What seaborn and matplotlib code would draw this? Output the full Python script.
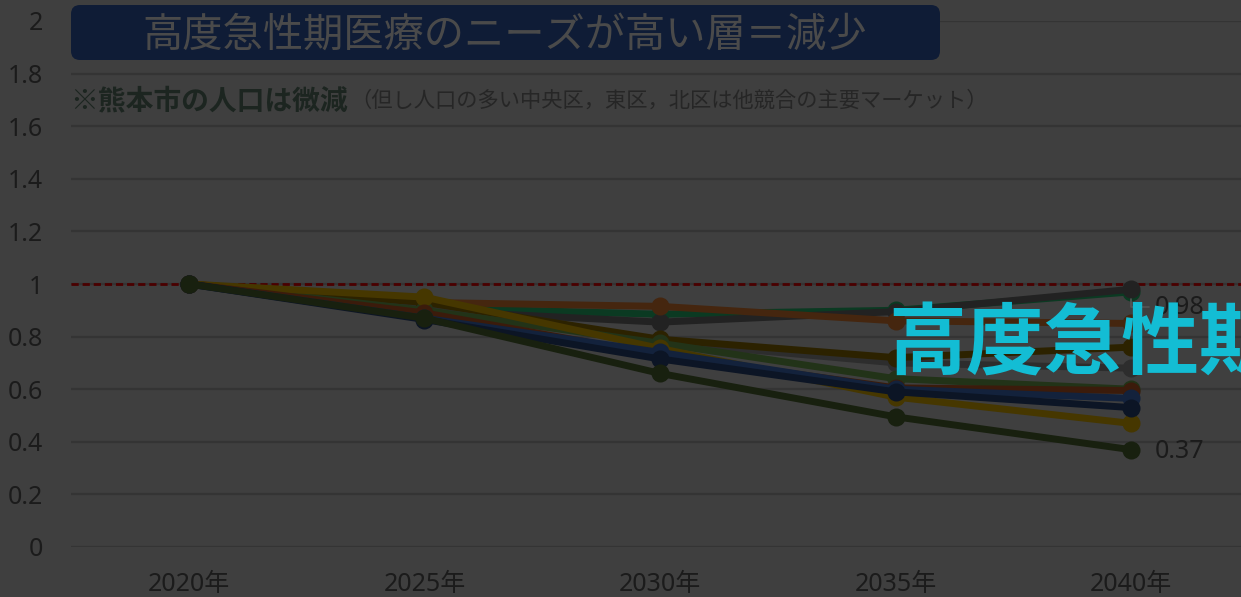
import matplotlib
matplotlib.use("Agg")
import matplotlib.pyplot as plt
from matplotlib.patches import FancyBboxPatch
from matplotlib.transforms import IdentityTransform
import seaborn as sns
import pandas as pd

# ---- data -------------------------------------------------------------
years = ["2020年", "2025年", "2030年", "2035年", "2040年"]

s_green      = [1.00, 0.91, 0.885, 0.900, 0.970]
s_darkgray   = [1.00, 0.90, 0.855, 0.895, 0.980]
s_orange     = [1.00, 0.93, 0.915, 0.860, 0.850]
s_gray       = [1.00, 0.91, 0.780, 0.700, 0.680]
s_darkyellow = [1.00, 0.93, 0.790, 0.720, 0.760]
s_olive      = [1.00, 0.90, 0.775, 0.640, 0.600]
s_gold       = [1.00, 0.95, 0.755, 0.570, 0.470]
s_brown      = [1.00, 0.89, 0.730, 0.605, 0.595]
s_blue       = [1.00, 0.87, 0.740, 0.600, 0.565]
s_navy       = [1.00, 0.865, 0.715, 0.590, 0.530]
s_forest     = [1.00, 0.87, 0.660, 0.495, 0.370]

series = {
    "系列A": s_green,
    "系列B": s_darkgray,
    "系列C": s_orange,
    "系列D": s_gray,
    "系列E": s_darkyellow,
    "系列F": s_olive,
    "系列G": s_gold,
    "系列H": s_brown,
    "系列I": s_blue,
    "系列J": s_navy,
    "系列K": s_forest,
}
colors = {
    "系列A": "#0b3a22",
    "系列B": "#222222",
    "系列C": "#45260f",
    "系列D": "#2d2d2d",
    "系列E": "#2c2200",
    "系列F": "#223318",
    "系列G": "#463700",
    "系列H": "#3b1b0b",
    "系列I": "#13223c",
    "系列J": "#0c1525",
    "系列K": "#18200f",
}

title = "高度急性期医療のニーズが高い層＝減少"
note_bold = "※熊本市の人口は微減"
note_rest = "（但し人口の多い中央区，東区，北区は他競合の主要マーケット）"
overlay = "高度急性期"
yticks = [0, 0.2, 0.4, 0.6, 0.8, 1, 1.2, 1.4, 1.6, 1.8, 2]

rows = []
for name, vals in series.items():
    for i, v in enumerate(vals):
        rows.append({"series": name, "x": i, "value": v})
df = pd.DataFrame(rows)

# ---- style ------------------------------------------------------------
sns.set_theme(style="white")
plt.rcParams["font.family"] = ["Noto Sans CJK JP", "DejaVu Sans"]
TICK_FONT = ["Noto Sans", "Noto Sans CJK JP"]

BG = "#3f3f3f"
W, H = 1241, 597
fig = plt.figure(figsize=(W / 100, H / 100), dpi=100, facecolor=BG)
ax = fig.add_axes([71 / W, 50 / H, 1178 / W, 526 / H])
ax.set_facecolor(BG)

# horizontal grid lines
for t in yticks:
    ax.axhline(t, color="#343434", lw=1.6, zorder=0)

# reference level
ax.axhline(1.0, color="#4a0000", lw=2, dashes=(2.6, 1.4), zorder=1)

sns.lineplot(
    data=df, x="x", y="value", hue="series", palette=colors,
    hue_order=list(series.keys()), marker="o", markersize=13,
    markeredgewidth=0, linewidth=5.0, legend=False, sort=False, ax=ax,
    zorder=2,
)

ax.set_xlim(-0.5, 4.5)
ax.set_ylim(0, 2)
ax.set_xticks(range(len(years)))
ax.set_xticklabels(years, family=TICK_FONT)
ax.set_yticks(yticks)
ax.set_yticklabels([f"{t:g}" for t in yticks], family=TICK_FONT)
ax.tick_params(axis="both", length=0, labelsize=18, colors="#1b1b1b")
ax.tick_params(axis="y", pad=20)
ax.tick_params(axis="x", pad=18)
ax.set_xlabel("")
ax.set_ylabel("")
for sp in ax.spines.values():
    sp.set_visible(False)

# end-value labels
top_val = s_darkgray[-1]
low_val = s_forest[-1]
ax.annotate(
    f"{top_val:.2f}", xy=(4, top_val), xytext=(4.10, 0.912),
    textcoords="data", fontsize=18, family=TICK_FONT, color="#1b1b1b",
    va="center", ha="left",
    arrowprops=dict(arrowstyle="-", color="#555555", lw=1.2,
                    connectionstyle="angle,angleA=0,angleB=90,rad=0",
                    shrinkA=2, shrinkB=7),
    zorder=4,
)
ax.text(4.10, low_val - 0.005, f"{low_val:.2f}", fontsize=18,
        family=TICK_FONT, color="#1b1b1b", va="center", ha="left", zorder=4)

# heading box
box = FancyBboxPatch((71, H - 60), 869, 55,
                     boxstyle="round,pad=0,rounding_size=9",
                     transform=IdentityTransform(), facecolor="#0f1c36",
                     edgecolor="none", zorder=5)
fig.patches.append(box)
fig.text(505 / W, 1 - 35 / H, title, fontsize=29, color="#4a4a4a",
         ha="center", va="center", zorder=6)

# note line
fig.text(70 / W, 1 - 101 / H, note_bold, fontsize=20, fontweight="bold",
         color="#1c2520", ha="left", va="center")
fig.text(350 / W, 1 - 101 / H, note_rest, fontsize=15.3, color="#262626",
         ha="left", va="center")

# highlighted caption
fig.text(888 / W, 1 - 346 / H, overlay, fontsize=56, fontweight="bold",
         color="#13bdd4", ha="left", va="center", zorder=10)

fig.savefig("out.png", dpi=100, facecolor=BG)
